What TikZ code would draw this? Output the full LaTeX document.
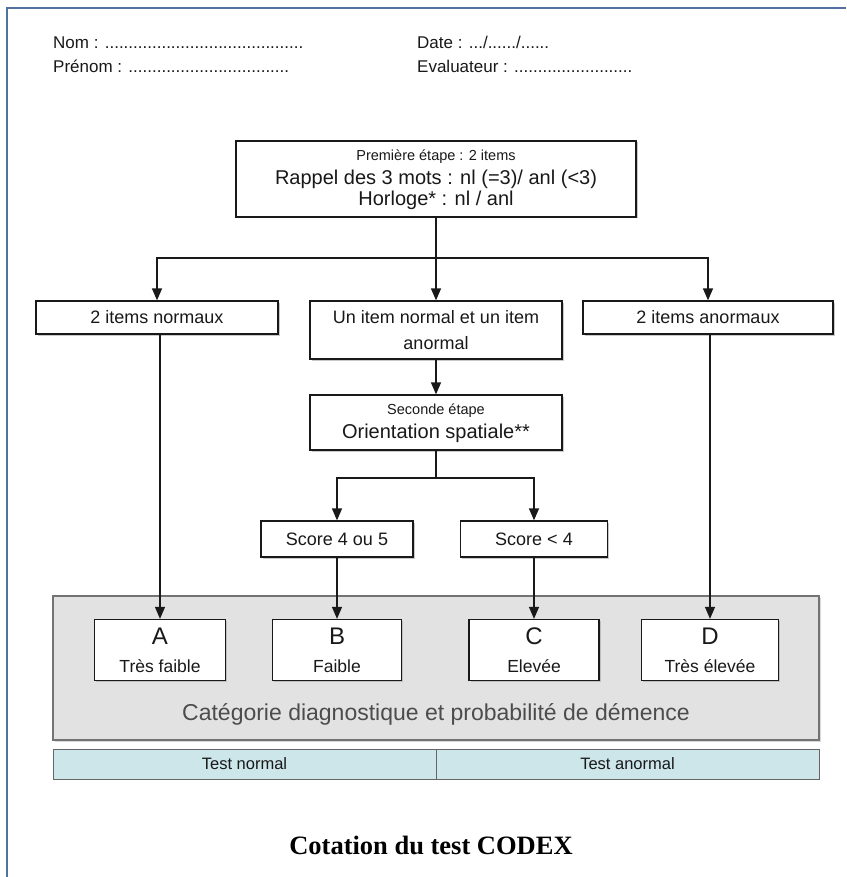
\documentclass[tikz,border=0pt]{standalone}
\usepackage{fontspec}
\setmainfont{Liberation Sans}
\newfontfamily\titlefont{Liberation Serif}
\usetikzlibrary{arrows.meta,shadows}
\definecolor{frameblue}{RGB}{82,112,160}
\definecolor{grayfill}{RGB}{226,226,226}
\definecolor{tealfill}{RGB}{204,230,234}
\definecolor{inkc}{RGB}{25,25,25}
\tikzset{
  box/.style={draw=inkc, line width=1.3pt, fill=white, align=center, inner sep=0pt,
    text=inkc, drop shadow={shadow xshift=1.5pt, shadow yshift=-1.5pt, fill=black!35, opacity=0.6}},
  conn/.style={draw=inkc, line width=1.4pt},
  arr/.style={conn, -{Triangle[length=12pt,width=10pt]}},
  hdr/.style={anchor=base west, inner sep=0pt, text=inkc, font=\fontsize{17}{20}\selectfont},
}
\begin{document}
\begin{tikzpicture}[x=1pt,y=-1pt]
\useasboundingbox (0,0) rectangle (846,877);
\fill[white] (0,0) rectangle (846,877);
% frame
\draw[frameblue, line width=2.5pt] (7,877) -- (7,8) -- (846,8);
% header
\node[hdr] (nom) at (53,49) {Nom : ..........................................};
\node[hdr] (prenom) at (53,73) {Prénom : ..................................};
\node[hdr] (date) at (417,49) {Date : .../....../......};
\node[hdr] (eval) at (417,73) {Evaluateur : .........................};
% top box
\node[box, minimum width=400pt, minimum height=76pt] (top) at (436,179) {};
\node[text=inkc, font=\fontsize{14.5}{16}\selectfont, inner sep=0pt] (t1) at (436,157) {Première étape : 2 items};
\node[text=inkc, font=\fontsize{20}{22}\selectfont, inner sep=0pt] (t2) at (436,179) {Rappel des 3 mots : nl (=3)/ anl (<3)};
\node[text=inkc, font=\fontsize{20}{22}\selectfont, inner sep=0pt] (t3) at (436,200) {Horloge* : nl / anl};
% second row
\node[box, minimum width=242pt, minimum height=33pt, font=\fontsize{18}{21}\selectfont] (left) at (157,317.5) {2 items normaux};
\node[box, minimum width=252pt, minimum height=58pt, font=\fontsize{18}{26}\selectfont] (mid) at (436,330) {Un item normal et un item\\anormal};
\node[box, minimum width=250pt, minimum height=33pt, font=\fontsize{18}{21}\selectfont] (right) at (708,317.5) {2 items anormaux};
\coordinate (j1) at (436,258);
\draw[conn] (top.south) -- (j1);
\draw[arr] (j1) -| (left.north);
\draw[arr] (j1) -- (mid.north);
\draw[arr] (j1) -| (right.north);
% seconde etape
\node[box, minimum width=252pt, minimum height=55pt] (sec) at (436,422.5) {};
\node[text=inkc, font=\fontsize{14.5}{16}\selectfont, inner sep=0pt] (s1) at (436,411) {Seconde étape};
\node[text=inkc, font=\fontsize{20}{22}\selectfont, inner sep=0pt] (s2) at (436,433) {Orientation spatiale**};
\draw[arr] (mid.south) -- (sec.north);
% scores
\node[box, minimum width=152pt, minimum height=36pt, font=\fontsize{18}{21}\selectfont] (sc1) at (337,539) {Score 4 ou 5};
\node[box, minimum width=147pt, minimum height=36pt, font=\fontsize{18}{21}\selectfont] (sc2) at (534,539) {Score < 4};
\coordinate (j2) at (436,478);
\draw[conn] (sec.south) -- (j2);
\draw[arr] (j2) -| (sc1.north);
\draw[arr] (j2) -| (sc2.north);
% gray area
\node[draw=black!55, line width=1.2pt, fill=grayfill, minimum width=766pt, minimum height=144pt, inner sep=0pt,
  drop shadow={shadow xshift=1.5pt, shadow yshift=-1.5pt, fill=black!30, opacity=0.5}] (area) at (436,668) {};
\node[text=black!70, font=\fontsize{23}{26}\selectfont, inner sep=0pt] (cat) at (436,714) {Catégorie diagnostique et probabilité de démence};
\node[box, minimum width=131pt, minimum height=61pt, font=\fontsize{17.5}{28}\selectfont] (A) at (160,650) {{\fontsize{24}{24}\selectfont A}\\Très faible};
\node[box, minimum width=129pt, minimum height=61pt, font=\fontsize{17.5}{28}\selectfont] (B) at (337,650) {{\fontsize{24}{24}\selectfont B}\\Faible};
\node[box, minimum width=130pt, minimum height=61pt, font=\fontsize{17.5}{28}\selectfont] (C) at (534,650) {{\fontsize{24}{24}\selectfont C}\\Elevée};
\node[box, minimum width=137pt, minimum height=61pt, font=\fontsize{17.5}{28}\selectfont] (D) at (710,650) {{\fontsize{24}{24}\selectfont D}\\Très élevée};
\draw[arr] (left.south -| A.north) -- (A.north);
\draw[arr] (sc1.south) -- (B.north);
\draw[arr] (sc2.south) -- (C.north);
\draw[arr] (right.south -| D.north) -- (D.north);
% result bar
\node[draw=black!60, line width=1pt, fill=tealfill, minimum width=383pt, minimum height=30pt, inner sep=0pt,
  text=inkc, font=\fontsize{16.5}{19}\selectfont] (tn) at (244.5,764) {Test normal};
\node[draw=black!60, line width=1pt, fill=tealfill, minimum width=383pt, minimum height=30pt, inner sep=0pt,
  text=inkc, font=\fontsize{16.5}{19}\selectfont] (ta) at (627.5,764) {Test anormal};
% title
\node[font=\titlefont\bfseries\fontsize{26.5}{30}\selectfont, inner sep=0pt] (title) at (431,845) {Cotation du test CODEX};
\end{tikzpicture}
\end{document}
